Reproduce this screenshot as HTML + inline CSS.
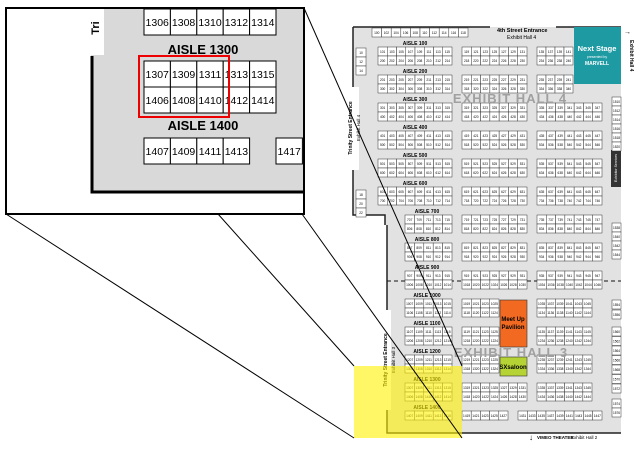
<!DOCTYPE html>
<html><head><meta charset="utf-8"><style>
html,body{margin:0;padding:0;background:#fff;width:640px;height:454px;overflow:hidden}
svg{display:block;font-family:"Liberation Sans",sans-serif}
</style></head><body>
<svg id="s" width="640" height="454" viewBox="0 0 640 454" xmlns="http://www.w3.org/2000/svg">
<rect x="6" y="8" width="298" height="206" fill="#fff" stroke="#000" stroke-width="2"/>
<rect x="91" y="9" width="212" height="183" fill="#d9d9d9"/>
<rect x="88" y="9" width="16" height="46" fill="#fff"/>
<text x="0" y="0" font-size="11" font-weight="bold" transform="translate(99,28) rotate(-90)" text-anchor="middle">Tri</text>
<path d="M92,56 V192 H303" fill="none" stroke="#000" stroke-width="3"/>
<g id="inset" font-size="10.5" fill="#000"></g>
<text x="203" y="54" font-size="13" font-weight="bold" text-anchor="middle">AISLE 1300</text>
<text x="203" y="130" font-size="13" font-weight="bold" text-anchor="middle">AISLE 1400</text>
<rect x="139" y="56" width="90" height="61" fill="none" stroke="#e00" stroke-width="2"/>
<path d="M353,27 H621 V433 H387 V225 H385 V215 H353 Z" fill="#e2e2e2"/>
<path d="M353,27 H490 M556,27 H621" stroke="#222" stroke-width="1.5"/>
<path d="M353,27 V87 M353,170 V215 H385 V225" fill="none" stroke="#222" stroke-width="1.5"/>
<path d="M387,225 V433 H621" fill="none" stroke="#222" stroke-width="1.5"/>
<rect x="574" y="27" width="47" height="57" fill="#1e9aa3"/>
<text x="597" y="51" font-size="7.5" font-weight="bold" fill="#fff" text-anchor="middle">Next Stage</text>
<text x="597" y="58" font-size="3.5" fill="#fff" text-anchor="middle">presented by</text>
<text x="597" y="65" font-size="5" font-weight="bold" fill="#fff" text-anchor="middle">MARVELL</text>
<text x="497" y="32" font-size="5.5" font-weight="bold">4th Street Entrance</text>
<text x="507" y="39" font-size="5">Exhibit Hall 4</text>
<rect x="347" y="87" width="12" height="83" fill="#fff"/>
<text transform="translate(352,128) rotate(-90)" font-size="5" font-weight="bold" text-anchor="middle">Trinity Street Entrance</text>
<text transform="translate(360,128) rotate(-90)" font-size="4.5" text-anchor="middle">Exhibit Hall 4</text>
<rect x="381" y="310" width="10" height="100" fill="#fff"/>
<text transform="translate(387,360) rotate(-90)" font-size="5" font-weight="bold" text-anchor="middle">Trinity Street Entrance</text>
<text transform="translate(395,360) rotate(-90)" font-size="4.5" text-anchor="middle">Exhibit Hall 3</text>
<line x1="387" y1="281" x2="621" y2="281" stroke="#111" stroke-width="1" stroke-dasharray="4,3"/>
<rect x="500" y="300" width="27" height="47" fill="#f26a21" stroke="#333" stroke-width="0.6"/>
<text x="513" y="321" font-size="6" font-weight="bold" text-anchor="middle">Meet Up</text>
<text x="513" y="329" font-size="6" font-weight="bold" text-anchor="middle">Pavilion</text>
<rect x="500" y="357" width="27" height="19" fill="#b5d334" stroke="#333" stroke-width="0.6"/>
<text x="513" y="369" font-size="6" font-weight="bold" text-anchor="middle">SXsaloon</text>
<rect x="611" y="150" width="10" height="37" fill="#333"/>
<text transform="translate(617,168) rotate(-90)" font-size="3.5" fill="#fff" text-anchor="middle">Exhibitor Services</text>
<g id="booths"></g>
<text x="510" y="103" font-size="13" font-weight="bold" fill="#a0a0a0" text-anchor="middle" letter-spacing="1">EXHIBIT HALL 4</text>
<text x="511" y="357" font-size="13" font-weight="bold" fill="#a0a0a0" text-anchor="middle" letter-spacing="1">EXHIBIT HALL 3</text>
<text x="529" y="440" font-size="8">↓</text>
<text x="537" y="439" font-size="4.5" font-weight="bold">VIMEO THEATER</text>
<text x="571" y="439" font-size="4.5">Exhibit Hall 2</text>
<text x="624" y="34" font-size="7">→</text>
<text transform="translate(630,40) rotate(90)" font-size="5" font-weight="bold">Exhibit Hall 4</text>
<rect x="354" y="366" width="108" height="72" fill="#fff200" fill-opacity="0.6"/>
<g stroke="#000" stroke-width="1">
<line x1="6" y1="214" x2="354" y2="438"/>
<line x1="218" y1="214" x2="354" y2="366"/>
<line x1="302" y1="214" x2="462" y2="438"/>
<line x1="304" y1="8" x2="462" y2="366"/>
</g>
</svg>
<script>
var NS="http://www.w3.org/2000/svg";
function el(p,t,a,txt){var e=document.createElementNS(NS,t);for(var k in a)e.setAttribute(k,a[k]);if(txt!=null)e.textContent=txt;p.appendChild(e);return e;}
var ins=document.getElementById('inset');
function irow(x0,y,nums,w){nums.forEach(function(n,i){if(n==null)return;var x=x0+i*w;el(ins,'rect',{x:x,y:y,width:w,height:26,fill:'#fff',stroke:'#000','stroke-width':1});el(ins,'text',{x:x+w/2,y:y+17,'text-anchor':'middle','font-size':10.5},n);});}
var w=26.4;
irow(144,9,['1306','1308','1310','1312','1314'],w);
irow(144,61,['1307','1309','1311','1313','1315'],w);
irow(144,87,['1406','1408','1410','1412','1414'],w);
irow(144,138,['1407','1409','1411','1413'],w);
irow(276,138,['1417'],w);
var g=document.getElementById('booths');
function row(x0,x1,n,y,start,step){var bw=(x1-x0)/n;for(var i=0;i<n;i++){var x=x0+i*bw;el(g,'rect',{x:x,y:y,width:bw,height:9,fill:'#fff',stroke:'#333','stroke-width':0.5});el(g,'text',{x:x+bw/2,y:y+6,'text-anchor':'middle','font-size':3.2},String(start+i*step));}}
function aisle(x,y,t){el(g,'text',{x:x,y:y,'text-anchor':'middle','font-size':5,'font-weight':'bold'},t);}
row(372,468,10,28,100,2);
row(356,366,1,48,10,0);row(356,366,1,57,12,0);row(356,366,1,66,14,0);
row(356,366,1,190,18,0);row(356,366,1,199,20,0);row(356,366,1,208,22,0);
for(var k=0;k<14;k++){
  var ay=43+k*28, num=(k+1)*100;
  aisle(k<6?415:427,ay+2,'AISLE '+num);
  var r1=ay+4, r2=ay+13;
  if(k<6){row(378,452,8,r1,num+1,2);row(378,452,8,r2,num+100,2);}
  else if(k<13){row(405,452,5,r1,num+7,2);row(405,452,5,r2,num+106,2);}
  else {row(405,452,5,r1,1407,2);}
  if(k<13){
    if(k>=9&&k<12){row(462,499,4,r1,num+19,2);row(462,499,4,r2,num+118,2);}
    else {row(462,527,7,r1,num+19,2);row(462,527,7,r2,num+118,2);}
  } else {row(462,508,5,r1,1419,2);}
  if(k<2){row(537,573,4,r1,num+35,2);row(537,573,4,r2,num+134,2);}
  else if(k<9){row(537,602,7,r1,num+35,2);row(537,602,7,r2,num+134,2);}
  else if(k<13){row(537,592,6,r1,num+35,2);row(537,592,6,r2,num+134,2);}
  else {row(518,602,9,r1,1431,2);}
}
for(var j=0;j<6;j++)row(612,621,1,97+j*9,1510+j*2,0);
for(var j=0;j<4;j++)row(612,621,1,223+j*9,1538+j*2,0);
for(var j=0;j<2;j++)row(612,621,1,300+j*10,1554+j*2,0);
for(var j=0;j<7;j++)row(612,621,1,327+j*9.5,1560+j*2,0);
for(var j=0;j<2;j++)row(612,621,1,399+j*9,1574+j*2,0);
</script>
</body></html>
